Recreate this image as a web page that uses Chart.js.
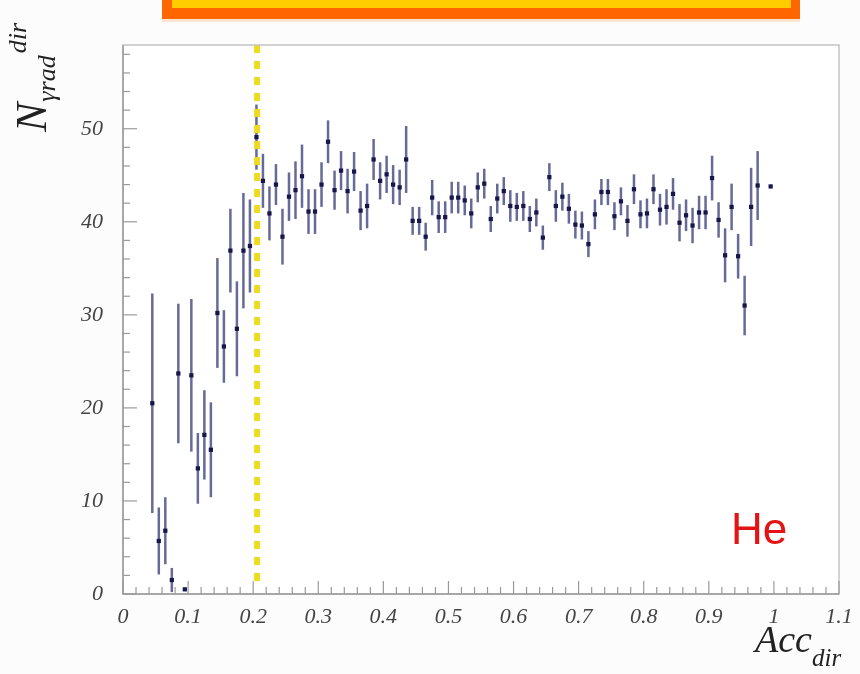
<!DOCTYPE html>
<html>
<head>
<meta charset="utf-8">
<script src="https://cdn.jsdelivr.net/npm/chart.js@4.4.0/dist/chart.umd.min.js"></script>
<style>
  body { margin: 0; background: #fcfcfc; }
  #wrap { width: 860px; height: 674px; position: relative; }
</style>
</head>
<body>
<div id="wrap"><canvas id="chart" width="860" height="674"></canvas></div>
<script>
// bin centres of Acc_dir
var accBins = [0.045, 0.055, 0.065, 0.075, 0.085, 0.095, 0.105, 0.115, 0.125, 0.135,
  0.145, 0.155, 0.165, 0.175, 0.185, 0.195, 0.205, 0.215, 0.225, 0.235,
  0.245, 0.255, 0.265, 0.275, 0.285, 0.295, 0.305, 0.315, 0.325, 0.335,
  0.345, 0.355, 0.365, 0.375, 0.385, 0.395, 0.405, 0.415, 0.425, 0.435,
  0.445, 0.455, 0.465, 0.475, 0.485, 0.495, 0.505, 0.515, 0.525, 0.535,
  0.545, 0.555, 0.565, 0.575, 0.585, 0.595, 0.605, 0.615, 0.625, 0.635,
  0.645, 0.655, 0.665, 0.675, 0.685, 0.695, 0.705, 0.715, 0.725, 0.735,
  0.745, 0.755, 0.765, 0.775, 0.785, 0.795, 0.805, 0.815, 0.825, 0.835,
  0.845, 0.855, 0.865, 0.875, 0.885, 0.895, 0.905, 0.915, 0.925, 0.935,
  0.945, 0.955, 0.965, 0.975, 0.995];

// N_grad^dir per bin
var nValues = [20.5, 5.7, 6.8, 1.5, 23.7, 0.5, 23.5, 13.5, 17.1, 15.5,
  30.2, 26.6, 36.9, 28.5, 36.9, 37.4, 49.1, 44.4, 40.9, 44.0,
  38.4, 42.7, 43.4, 44.9, 41.1, 41.1, 44.0, 48.6, 43.4, 45.5,
  43.3, 45.4, 41.2, 41.7, 46.7, 44.4, 45.1, 44.0, 43.7, 46.7,
  40.1, 40.1, 38.4, 42.6, 40.5, 40.5, 42.6, 42.6, 42.3, 40.9,
  43.7, 44.1, 40.3, 42.5, 43.3, 41.7, 41.6, 41.7, 40.3, 41.0,
  38.3, 44.8, 41.7, 42.7, 41.4, 39.7, 39.6, 37.6, 40.8, 43.2,
  43.2, 40.6, 42.2, 40.1, 43.5, 40.8, 40.9, 43.5, 41.3, 41.6,
  43.0, 39.9, 40.7, 39.6, 41.0, 41.0, 44.7, 40.2, 36.4, 41.6,
  36.3, 31.0, 41.6, 43.9, 43.8];

// error bar half lengths
var nErrors = [11.8, 3.6, 3.6, 1.3, 7.5, 0, 8.2, 3.8, 4.8, 5.1,
  5.9, 3.9, 4.5, 5.1, 6.2, 5.0, 3.5, 2.9, 2.9, 2.2,
  3.0, 2.6, 3.1, 3.4, 2.4, 2.4, 2.4, 2.3, 2.1, 2.1,
  2.4, 2.1, 2.1, 2.4, 2.2, 2.0, 2.0, 2.1, 1.9, 3.6,
  1.5, 1.5, 1.5, 1.9, 1.7, 1.7, 1.7, 1.7, 1.6, 1.6,
  1.6, 1.6, 1.4, 1.6, 1.5, 1.7, 1.5, 1.6, 1.4, 1.5,
  1.3, 1.5, 1.7, 1.5, 1.6, 1.5, 1.5, 1.4, 1.6, 1.4,
  1.4, 1.5, 1.5, 1.7, 1.6, 1.5, 1.6, 1.6, 1.7, 1.9,
  1.7, 2.0, 1.7, 1.9, 1.8, 1.8, 2.4, 1.9, 2.9, 2.5,
  2.4, 3.2, 4.2, 3.7, 0];

var xTickValues = [0, 0.1, 0.2, 0.3, 0.4, 0.5, 0.6, 0.7, 0.8, 0.9, 1, 1.1];
var xTickLabels = ['0', '0.1', '0.2', '0.3', '0.4', '0.5', '0.6', '0.7', '0.8', '0.9', '1', '1.1'];
var yTickValues = [0, 10, 20, 30, 40, 50];
var yTickLabels = ['0', '10', '20', '30', '40', '50'];

var cutValue = 0.206;      // dashed yellow cut line
var cutRange = [1.2, 59];

var tickFont = { family: 'Liberation Serif', style: 'italic', size: 22 };

var points = [];
for (var i = 0; i < accBins.length; i++) {
  points.push({ x: accBins[i], y: nValues[i] });
}

var errorBars = {
  id: 'errorBars',
  beforeDatasetsDraw: function (chart) {
    var ctx = chart.ctx, xs = chart.scales.x, ys = chart.scales.y;
    var area = chart.chartArea;
    ctx.save();
    ctx.fillStyle = '#ffffff';
    ctx.fillRect(area.left, area.top, area.right - area.left, area.bottom - area.top);
    ctx.strokeStyle = 'rgba(58,64,122,0.78)';
    ctx.lineWidth = 2.5;
    for (var i = 0; i < accBins.length; i++) {
      if (!nErrors[i]) continue;
      var px = xs.getPixelForValue(accBins[i]);
      var top = ys.getPixelForValue(Math.min(nValues[i] + nErrors[i], ys.max));
      var bot = ys.getPixelForValue(Math.max(nValues[i] - nErrors[i], 0));
      ctx.beginPath();
      ctx.moveTo(px, top);
      ctx.lineTo(px, bot);
      ctx.stroke();
    }
    // cut line
    var cx = xs.getPixelForValue(cutValue);
    ctx.strokeStyle = '#efda20';
    ctx.lineWidth = 6;
    ctx.setLineDash([8, 8]);
    ctx.beginPath();
    ctx.moveTo(cx, ys.getPixelForValue(cutRange[1]));
    ctx.lineTo(cx, ys.getPixelForValue(cutRange[0]));
    ctx.stroke();
    ctx.restore();
  }
};

var decorations = {
  id: 'decorations',
  beforeDraw: function (chart) {
    var ctx = chart.ctx;
    ctx.save();
    ctx.fillStyle = '#fcfcfc';
    ctx.fillRect(0, 0, chart.width, chart.height);
    ctx.restore();
  },
  afterDraw: function (chart) {
    var ctx = chart.ctx, xs = chart.scales.x, ys = chart.scales.y;
    var a = chart.chartArea;
    ctx.save();
    // frame
    ctx.strokeStyle = '#c4c4c4';
    ctx.lineWidth = 1.5;
    ctx.strokeRect(a.left, a.top, a.right - a.left, a.bottom - a.top);
    ctx.strokeStyle = '#9a9a9a';
    ctx.beginPath();
    ctx.moveTo(a.left, a.top);
    ctx.lineTo(a.left, a.bottom);
    ctx.lineTo(a.right, a.bottom);
    ctx.stroke();

    // inner ticks, ROOT style
    ctx.lineWidth = 1.2;
    var v, p, k;
    for (k = 0; k <= 55; k++) {
      v = k * 0.02;
      if (v > xs.max + 1e-9) break;
      p = xs.getPixelForValue(v);
      ctx.beginPath();
      ctx.moveTo(p, a.bottom);
      ctx.lineTo(p, a.bottom - (k % 5 === 0 ? 13 : 7));
      ctx.stroke();
    }
    for (k = 0; k <= 29; k++) {
      v = k * 2;
      if (v > ys.max) break;
      p = ys.getPixelForValue(v);
      ctx.beginPath();
      ctx.moveTo(a.left, p);
      ctx.lineTo(a.left + (k % 5 === 0 ? 14 : 7), p);
      ctx.stroke();
    }

    // axis titles
    ctx.fillStyle = '#222';
    ctx.textBaseline = 'alphabetic';
    ctx.textAlign = 'left';
    ctx.font = 'italic 38px "Liberation Serif"';
    ctx.fillText('Acc', 755, 652);
    ctx.font = 'italic 25px "Liberation Serif"';
    ctx.fillText('dir', 812, 666);

    ctx.save();
    ctx.translate(46, 132);
    ctx.rotate(-Math.PI / 2);
    ctx.font = 'italic 44px "Liberation Serif"';
    ctx.fillText('N', 0, 0);
    var nw = ctx.measureText('N').width;
    ctx.font = 'italic 26px "Liberation Serif"';
    ctx.fillText('\u03b3rad', nw + 1, 9);
    var sw = ctx.measureText('\u03b3rad').width;
    ctx.fillText('dir', nw + sw + 3, -20);
    ctx.restore();

    // label
    ctx.fillStyle = '#e41414';
    ctx.font = '44px "Liberation Sans"';
    ctx.fillText('He', a.right - 108, a.bottom - 50);

    // title box cut off at top
    ctx.fillStyle = '#ff6600';
    ctx.fillRect(162, 0, 638, 19);
    ctx.fillStyle = '#ffcc00';
    ctx.fillRect(172, 0, 619, 8);
    ctx.fillStyle = 'rgba(255,120,0,0.18)';
    ctx.fillRect(162, 19, 638, 3);
    ctx.restore();
  }
};

new Chart(document.getElementById('chart'), {
  type: 'scatter',
  data: {
    datasets: [{
      label: 'N',
      data: points,
      pointStyle: 'rect',
      pointRadius: 3,
      backgroundColor: '#16164a',
      borderColor: '#16164a',
      borderWidth: 0
    }]
  },
  options: {
    responsive: false,
    animation: false,
    layout: { padding: { top: 45, right: 21, left: 0, bottom: 0 } },
    plugins: { legend: { display: false }, tooltip: { enabled: false } },
    scales: {
      x: {
        type: 'linear',
        min: 0,
        max: 1.1,
        grid: { display: false },
        border: { display: false },
        afterBuildTicks: function (scale) {
          scale.ticks = xTickValues.map(function (t) { return { value: t }; });
        },
        afterFit: function (scale) { scale.height = 80; },
        ticks: {
          font: tickFont,
          color: '#444444',
          padding: 2,
          maxRotation: 0,
          autoSkip: false,
          callback: function (value, index) { return xTickLabels[index]; }
        }
      },
      y: {
        min: 0,
        max: 59,
        grid: { display: false },
        border: { display: false },
        afterBuildTicks: function (scale) {
          scale.ticks = yTickValues.map(function (t) { return { value: t }; });
        },
        afterFit: function (scale) { scale.width = 123; },
        ticks: {
          font: tickFont,
          color: '#444444',
          padding: 12,
          autoSkip: false,
          callback: function (value, index) { return yTickLabels[index]; }
        }
      }
    }
  },
  plugins: [decorations, errorBars]
});
</script>
</body>
</html>
